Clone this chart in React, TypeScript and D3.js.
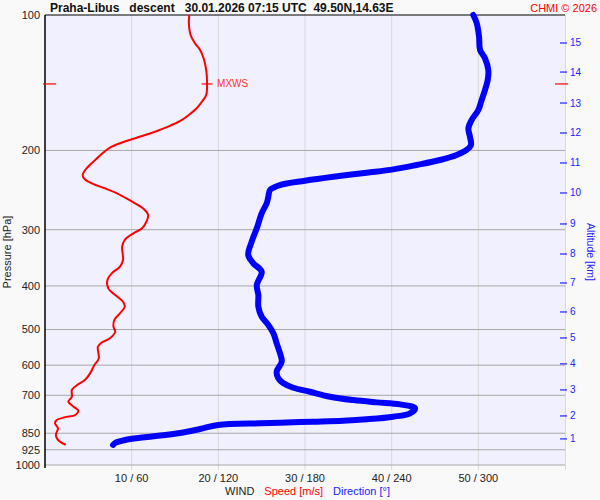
import React from 'react';
import * as d3 from 'd3';

const FONT = '"Liberation Sans", Arial, Helvetica, sans-serif';

// Pressure axis
const pressureTicks = [100, 200, 300, 400, 500, 600, 700, 850, 925, 1000];
// Bottom axis ticks
const speedTicks = [10, 20, 30, 40, 50];
const directionTicks = [60, 120, 180, 240, 300];
// Altitude axis (km) and corresponding pressure levels (hPa)
const altitudeKm = [1, 2, 3, 4, 5, 6, 7, 8, 9, 10, 11, 12, 13, 14, 15];
const altitudePressure = [875, 778, 681, 596, 522, 457, 394, 339.7, 291.3, 248.6, 213.2, 182.9, 156.9, 133.9, 115.4];

// Wind speed profile (m/s) vs pressure (hPa)
const speedPressure = [
  100, 104.3, 110.8, 115.6, 119.6, 124.8, 132.5, 142.3, 150.6, 155.9, 161.2, 166.8, 172.0, 177.1,
  181.7, 185.8, 190.5, 196.2, 202.3, 210.0, 219.2, 226.8, 231.8, 237.5, 242.7, 249.0, 256.8, 262.1,
  268.9, 278.3, 288.0, 297.9, 305.6, 316.2, 327.3, 350.3, 362.5, 375.0, 388.1, 405.0, 419.1, 433.7,
  444.9, 460.2, 476.3, 492.7, 505.5, 523.0, 535.0, 546.1, 579.5, 599.7, 625.6, 647.4, 664.2, 681.3,
  705.1, 723.4, 742.1, 757.5, 774.4, 783.5, 794.3, 807.8, 828.8, 857.7, 880.0, 902.5,
];
const speedValues = [
  16.65, 16.6, 16.8, 17.3, 17.9, 18.3, 18.6, 18.7, 18.6, 18.1, 17.5, 16.6, 15.6, 14.2,
  12.7, 11.2, 9.4, 7.7, 6.7, 5.8, 4.8, 4.35, 4.6, 5.6, 6.9, 8.3, 9.6, 10.4,
  11.3, 11.9, 11.7, 11.2, 10.2, 9.2, 8.9, 9.0, 8.65, 7.7, 7.2, 7.3, 8.1, 9.0,
  9.2, 8.65, 8.0, 7.9, 8.1, 7.5, 6.5, 6.1, 6.2, 5.7, 5.2, 4.6, 3.7, 3.1,
  3.1, 2.7, 3.3, 3.85, 3.5, 2.3, 1.35, 1.15, 1.5, 1.25, 1.5, 2.4,
];

// Wind direction profile (deg) vs pressure (hPa)
const dirPressure = [
  100, 104.3, 111.7, 119.6, 124.8, 132.5, 139.4, 146.8, 154.5, 162.6, 171.1, 178.6, 186.4, 194.5,
  199.5, 204.7, 210.0, 215.4, 220.3, 224.1, 228.8, 233.5, 238.7, 244.8, 253.4, 262.1, 275.9, 297.9,
  319.0, 341.5, 356.3, 371.9, 398.1, 419.1, 444.9, 468.1, 488.5, 509.6, 536.7, 564.6, 589.2, 620.1,
  641.8, 657.5, 673.4, 687.4, 705.1, 717.3, 725.8, 733.2, 748.2, 767.6, 781.0, 791.4, 797.2, 801.3,
  805.4, 807.8, 814.9, 831.8, 849.0, 867.8, 880.0, 893.5, 902.5,
];
const dirValues = [
  296.5, 298.9, 300.5, 301.2, 304.6, 306.9, 306.5, 304.6, 302.3, 300.0, 295.4, 293.1, 294.2, 294.9,
  291.9, 285.0, 273.5, 257.3, 241.1, 222.7, 199.6, 180.0, 162.7, 155.8, 154.6, 153.5, 150.0, 146.6,
  143.1, 140.7, 144.2, 150.0, 146.6, 147.7, 147.7, 150.0, 154.6, 158.1, 160.4, 162.7, 163.9, 160.4,
  161.5, 164.8, 171.9, 183.5, 197.3, 213.4, 229.6, 245.8, 256.2, 252.7, 241.1, 222.7, 206.5, 185.7,
  162.7, 148.8, 119.8, 107.3, 93.5, 69.2, 55.4, 48.5, 47.1,
];

// Maximum wind
const mxwsPressure = 142.3;
const mxwsSpeed = 18.7;

export default function App() {
  const left = 45;
  const right = 565;
  const top = 15;
  const bottom = 465;

  const y = d3.scaleLog().domain([100, 1000]).range([top, bottom]);
  const xSpeed = d3.scaleLinear().domain([0, 60]).range([left, right]);
  const xDir = d3.scaleLinear().domain([0, 360]).range([left, right]);

  const speedLine = d3
    .line<number>()
    .x((d) => xSpeed(d))
    .y((_, i) => y(speedPressure[i]))
    .curve(d3.curveCatmullRom.alpha(0.5));
  const dirLine = d3
    .line<number>()
    .x((d) => xDir(d))
    .y((_, i) => y(dirPressure[i]))
    .curve(d3.curveCatmullRom.alpha(0.5));

  const my = y(mxwsPressure);
  const mx = xSpeed(mxwsSpeed);

  return (
    <svg
      width={600}
      height={500}
      style={{ position: 'absolute', left: 0, top: 0, display: 'block' }}
      fontFamily={FONT}
    >
      <rect x={0} y={0} width={600} height={500} fill="#f9f9f9" />
      <rect x={left} y={top} width={right - left} height={bottom - top} fill="#f0f0ff" />

      {/* vertical grid */}
      {speedTicks.map((t) => (
        <line key={'v' + t} x1={xSpeed(t)} x2={xSpeed(t)} y1={top} y2={470} stroke="#d8d8d8" strokeWidth={1} />
      ))}
      <line x1={right + 0.5} x2={right + 0.5} y1={top} y2={470} stroke="#d8d8d8" strokeWidth={1} />

      {/* horizontal grid */}
      {pressureTicks.slice(1).map((p) => (
        <line key={'h' + p} x1={left} x2={right} y1={y(p)} y2={y(p)} stroke="#a8a8a8" strokeWidth={1} />
      ))}

      {/* axes */}
      <line x1={left} x2={right} y1={top} y2={top} stroke="#000" strokeWidth={1.2} />
      <line x1={left} x2={left} y1={top} y2={468} stroke="#000" strokeWidth={1.5} />

      {/* pressure labels */}
      {pressureTicks.map((p) => (
        <text key={'pl' + p} x={40} y={y(p)} dy="0.35em" textAnchor="end" fontSize={11} fill="#222">
          {p}
        </text>
      ))}
      <text
        transform={`translate(11,252) rotate(-90)`}
        textAnchor="middle"
        fontSize={11}
        fill="#222"
      >
        Pressure [hPa]
      </text>

      {/* bottom tick labels */}
      {speedTicks.map((t, i) => (
        <text key={'xl' + t} x={xSpeed(t)} y={482} textAnchor="middle" fontSize={11} fill="#222">
          {`${t} / ${directionTicks[i]}`}
        </text>
      ))}
      <text x={225} y={495} fontSize={11} fill="#222" style={{ whiteSpace: 'pre' }}>
        <tspan>WIND</tspan>
        <tspan fill="#ff0000" dx={10}>Speed [m/s]</tspan>
        <tspan fill="#2020ff" dx={10}>Direction [°]</tspan>
      </text>

      {/* altitude axis */}
      {altitudeKm.map((k, i) => (
        <g key={'alt' + k}>
          <line x1={560} x2={567} y1={y(altitudePressure[i])} y2={y(altitudePressure[i])} stroke="#2020ff" strokeWidth={1.2} />
          <text x={570} y={y(altitudePressure[i])} dy="0.35em" fontSize={10} fill="#2020ff">
            {k}
          </text>
        </g>
      ))}
      <text
        transform={`translate(587,252) rotate(90)`}
        textAnchor="middle"
        fontSize={10.5}
        fill="#2020ff"
      >
        Altitude [km]
      </text>

      {/* MXWS markers */}
      <line x1={43} x2={56} y1={my} y2={my} stroke="#ff0000" strokeWidth={1.2} />
      <line x1={555} x2={568} y1={my} y2={my} stroke="#ff0000" strokeWidth={1.2} />
      <line x1={mx - 5.5} x2={mx + 5.5} y1={my} y2={my} stroke="#ff0000" strokeWidth={1.2} />
      <text x={mx + 10} y={my} dy="0.35em" fontSize={10} fill="#ff3030">
        MXWS
      </text>

      {/* wind direction */}
      <path
        d={dirLine(dirValues) ?? ''}
        fill="none"
        stroke="#0000ff"
        strokeWidth={6}
        strokeLinecap="round"
        strokeLinejoin="round"
      />
      {/* wind speed */}
      <path
        d={speedLine(speedValues) ?? ''}
        fill="none"
        stroke="#ff0000"
        strokeWidth={2}
        strokeLinejoin="round"
      />

      {/* title */}
      <text x={50} y={12} fontSize={12} fontWeight="bold" fill="#111" style={{ whiteSpace: 'pre' }}>
        {'Praha-Libus   descent   30.01.2026 07:15 UTC  49.50N,14.63E'}
      </text>
      <text x={597} y={12} textAnchor="end" fontSize={11} fill="#ff0000">
        CHMI © 2026
      </text>
    </svg>
  );
}
